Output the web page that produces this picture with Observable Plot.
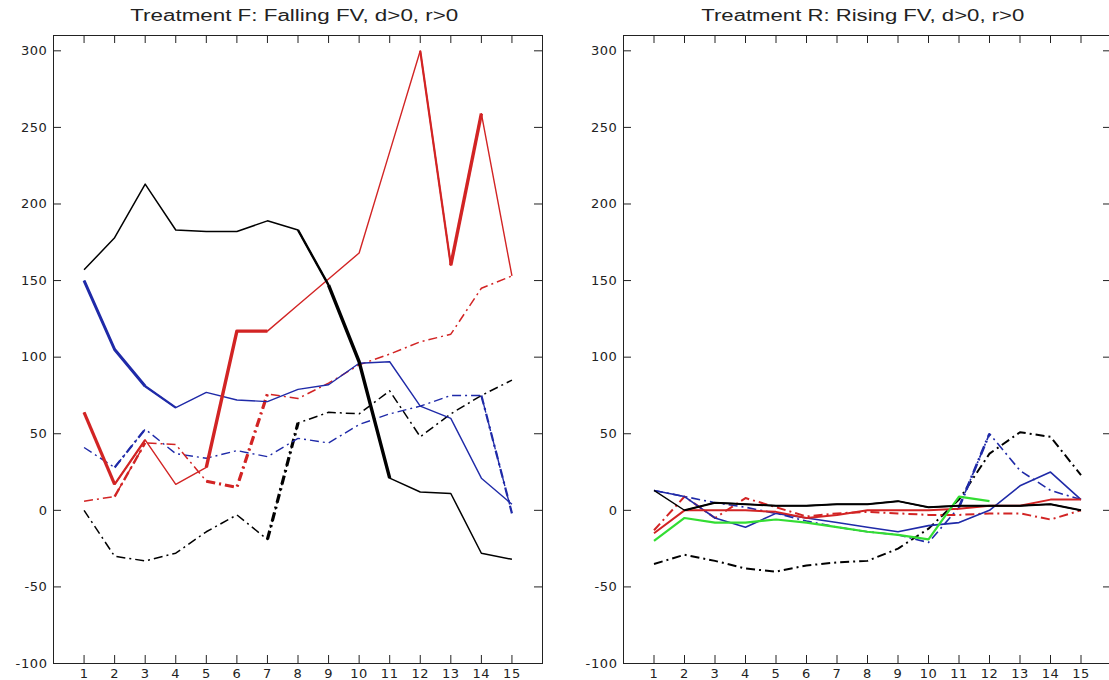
<!DOCTYPE html>
<html><head><meta charset="utf-8">
<script src="https://cdn.jsdelivr.net/npm/d3@7"></script>
<script src="https://cdn.jsdelivr.net/npm/@observablehq/plot@0.6"></script>
<style>
html,body{margin:0;padding:0;background:#fff;overflow:hidden;width:1109px;height:680px;}
#wrap{position:relative;width:1109px;height:680px;overflow:hidden;background:#fff;}
.panel{position:absolute;top:0;}
.title{position:absolute;top:7px;font-family:"Liberation Sans",Arial,sans-serif;font-size:16px;font-weight:400;white-space:nowrap;color:#222;line-height:18px;}
</style></head><body><div id="wrap"></div>
<script>
// ---------- data ----------
const periods = [1,2,3,4,5,6,7,8,9,10,11,12,13,14,15];
const xTicks = [1,2,3,4,5,6,7,8,9,10,11,12,13,14,15];
const yTicks = [-100,-50,0,50,100,150,200,250,300];
const titleF = "Treatment F: Falling FV, d>0, r>0";
const titleR = "Treatment R: Rising FV, d>0, r>0";

// Treatment F
const fBlackSolid = [157,178,213,183,182,182,189,183,147,97,21,12,11,-28,-32];
const fRedSolid   = [64,17,46,17,28,117,117,134,151,168,234,300,160,259,153];
const fRedDash    = [6,9,44,43,19,15,76,73,83,95,102,110,115,145,153];
const fBlueSolid  = [150,105,81,67,77,72,71,79,82,96,97,68,60,21,4];
const fBlueDash   = [41,28,53,37,34,39,35,47,44,56,63,68,75,75,-2];
const fBlackDash  = [0,-30,-33,-28,-14,-3,-19,57,64,63,78,48,63,75,85];

// Treatment R
const rBlackSolid = [13,0,5,4,3,3,4,4,6,2,3,3,3,4,0];
const rBlackDash  = [-35,-29,-33,-38,-40,-36,-34,-33,-25,-12,7,37,51,48,23];
const rBlueSolid  = [13,9,-5,-11,-2,-5,-8,-11,-14,-10,-8,0,16,25,7];
const rBlueDash   = [13,9,5,2,-2,-7,-11,-14,-16,-21,2,50,26,13,7];
const rRedSolid   = [-15,0,0,0,-1,-5,-3,0,0,0,1,3,3,7,7];
const rRedDash    = [-13,9,-5,8,2,-4,-2,-1,-2,-3,-3,-2,-2,-6,0];
const rGreen      = [-20,-5,-8,-8,-6,-8,-11,-14,-16,-19,9,6];

// ---------- styles ----------
const RED = "#d22424", BLUE = "#1f2aa8", BLACK = "#000000", GREEN = "#33dd33";
const DASHDOT = "9,4,2,4";

const fSeries = [
  {values: fBlackDash,  stroke: BLACK, dash: DASHDOT, width: 1.5, heavy: [[7,8,3.2]]},
  {values: fBlueDash,   stroke: BLUE,  dash: DASHDOT, width: 1.4, heavy: [[2,3,2.2],[14,15,2.2]]},
  {values: fRedDash,    stroke: RED,   dash: DASHDOT, width: 1.5, heavy: [[2,3,2.4],[5,7,3.2]]},
  {values: fBlueSolid,  stroke: BLUE,  dash: null,    width: 1.4, heavy: [[1,3,3],[3,4,2.2]]},
  {values: fRedSolid,   stroke: RED,   dash: null,    width: 1.4, heavy: [[1,2,3.2],[2,3,2.2],[5,7,3.4],[12,13,2.2],[13,14,3.4]]},
  {values: fBlackSolid, stroke: BLACK, dash: null,    width: 1.5, heavy: [[8,9,2.4],[9,11,3.4]]}
];
const rSeries = [
  {values: rBlackDash,  stroke: BLACK, dash: DASHDOT, width: 2.0, heavy: []},
  {values: rBlueDash,   stroke: BLUE,  dash: DASHDOT, width: 1.6, heavy: [[11,12,2.6]]},
  {values: rRedDash,    stroke: RED,   dash: DASHDOT, width: 2.0, heavy: []},
  {values: rBlueSolid,  stroke: BLUE,  dash: null,    width: 1.6, heavy: []},
  {values: rRedSolid,   stroke: RED,   dash: null,    width: 2.0, heavy: []},
  {values: rGreen,      stroke: GREEN, dash: null,    width: 2.2, heavy: []},
  {values: rBlackSolid, stroke: BLACK, dash: null,    width: 1.3, heavy: [[2,15,2.0]]}
];

// ---------- drawing ----------
const H = 680, MT = 35, MB = 17, TICK = 8;
const innerH = H - MT - MB;

function panel(series, width, ml, mr) {
  const innerW = width - ml - mr;
  const marks = [];
  for (const s of series) {
    const rows = s.values.map((v, i) => ({x: periods[i], y: v}));
    marks.push(Plot.line(rows, {x: "x", y: "y", stroke: s.stroke, strokeWidth: s.width,
      strokeDasharray: s.dash, strokeLinejoin: "round", strokeLinecap: "butt"}));
    for (const [a, b, w] of s.heavy) {
      const sub = rows.filter(d => d.x >= a && d.x <= b);
      marks.push(Plot.line(sub, {x: "x", y: "y", stroke: s.stroke, strokeWidth: w,
        strokeDasharray: s.dash, strokeLinejoin: "round", strokeLinecap: "butt"}));
    }
  }
  const tickStyle = {stroke: "#222", strokeWidth: 1};
  marks.push(
    Plot.tickX(xTicks, {x: d => d, insetTop: innerH - TICK, ...tickStyle}),
    Plot.tickX(xTicks, {x: d => d, insetBottom: innerH - TICK, ...tickStyle}),
    Plot.tickY(yTicks, {y: d => d, insetRight: innerW - TICK, ...tickStyle}),
    Plot.tickY(yTicks, {y: d => d, insetLeft: innerW - TICK, ...tickStyle}),
    Plot.axisX(xTicks, {tickSize: 0, tickPadding: 5, tickFormat: d => String(d), fontSize: 13, fill: "#222", label: null}),
    Plot.axisY(yTicks, {tickSize: 0, tickPadding: 6, tickFormat: d => String(d), fontSize: 13, fill: "#222", label: null}),
    Plot.frame({stroke: "#222", strokeWidth: 1})
  );
  return Plot.plot({
    width, height: H,
    marginLeft: ml, marginRight: mr, marginTop: MT, marginBottom: MB,
    x: {domain: [0, 16], axis: null, label: null},
    y: {domain: [-100, 310], axis: null, label: null},
    style: {fontFamily: "DejaVu Sans, sans-serif", letterSpacing: "0.6px", background: "transparent", overflow: "visible"},
    marks
  });
}

const wrap = document.getElementById("wrap");
function place(svg, left) {
  svg.classList.add("panel");
  svg.style.left = left + "px";
  wrap.appendChild(svg);
}
place(panel(fSeries, 560, 53, 18), 0);
place(panel(rSeries, 560, 63, 9), 560);

function addTitle(text, center, targetW) {
  const d = document.createElement("div");
  d.className = "title";
  d.textContent = text;
  wrap.appendChild(d);
  const w = d.getBoundingClientRect().width;
  const s = targetW / w;
  d.style.left = (center - w / 2) + "px";
  d.style.transform = `scaleX(${s})`;
  d.style.transformOrigin = "50% 50%";
}
addTitle(titleF, 294, 328);
addTitle(titleR, 863, 323);
</script></body></html>
